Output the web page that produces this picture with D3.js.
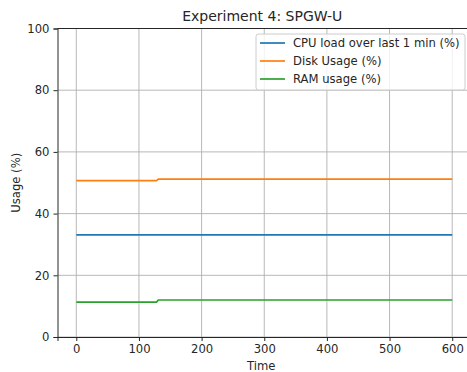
<!DOCTYPE html>
<html>
<head>
<meta charset="utf-8">
<script src="https://cdn.jsdelivr.net/npm/d3@7"></script>
<style>
  body { margin: 0; background: #fff; }
  text { font-family: "DejaVu Sans", sans-serif; fill: #262626; }
  .tick line { stroke: #262626; }
  .domain { stroke: #262626; }
</style>
</head>
<body>
<div id="chart"></div>
<script>
// values
var time = [0, 128, 131, 600];
var cpuLoad = [33.1, 33.1, 33.1, 33.1];
var diskUsage = [50.7, 50.7, 51.2, 51.2];
var ramUsage = [11.3, 11.3, 12.0, 12.0];

var seriesNames = ["CPU load over last 1 min (%)", "Disk Usage (%)", "RAM usage (%)"];
var seriesColors = ["#1f77b4", "#ff7f0e", "#2ca02c"];
var xTicks = [0, 100, 200, 300, 400, 500, 600];
var yTicks = [0, 20, 40, 60, 80, 100];

var series = [cpuLoad, diskUsage, ramUsage].map(function(vals, i) {
  return { name: seriesNames[i], color: seriesColors[i],
           values: vals.map(function(v, j) { return [time[j], v]; }) };
});

var W = 467, H = 372;
var margin = {top: 28.5, right: -4, bottom: 35, left: 57.5},
    width = W - margin.left - margin.right,
    height = H - margin.top - margin.bottom;

var xScale = d3.scaleLinear().domain([-30, 630]).range([0, width]),
    yScale = d3.scaleLinear().domain([0, 100]).range([height, 0]);

var svg = d3.select("#chart").append("svg")
    .attr("width", W)
    .attr("height", H)
    .append("g")
    .attr("transform", "translate(" + margin.left + "," + margin.top + ")");

// grid
svg.append("g").selectAll("line")
    .data(xTicks).enter().append("line")
    .attr("x1", function(d) { return xScale(d); })
    .attr("x2", function(d) { return xScale(d); })
    .attr("y1", 0).attr("y2", height)
    .attr("stroke", "#b0b0b0").attr("stroke-width", 0.9);

svg.append("g").selectAll("line")
    .data(yTicks).enter().append("line")
    .attr("x1", 0).attr("x2", width)
    .attr("y1", function(d) { return yScale(d); })
    .attr("y2", function(d) { return yScale(d); })
    .attr("stroke", "#b0b0b0").attr("stroke-width", 0.9);

// lines
var line = d3.line()
    .x(function(d) { return xScale(d[0]); })
    .y(function(d) { return yScale(d[1]); });

svg.append("g").selectAll("path")
    .data(series).enter().append("path")
    .attr("d", function(d) { return line(d.values); })
    .attr("fill", "none")
    .attr("stroke", function(d) { return d.color; })
    .attr("stroke-width", 1.7);

// axes
var xAxis = d3.axisBottom(xScale).tickValues(xTicks).tickSizeOuter(0).tickSize(4).tickPadding(4),
    yAxis = d3.axisLeft(yScale).tickValues(yTicks).tickSizeOuter(0).tickSize(4).tickPadding(4);

svg.append("g")
    .attr("transform", "translate(0," + height + ")")
    .call(xAxis)
    .call(function(g) { g.selectAll("text").style("font-size", "11.6px"); });

svg.append("g")
    .call(yAxis)
    .call(function(g) { g.selectAll("text").style("font-size", "11.6px"); });

svg.selectAll(".domain").attr("stroke-width", 1);

// top spine
svg.append("line")
    .attr("x1", 0).attr("x2", width)
    .attr("y1", 0).attr("y2", 0)
    .attr("stroke", "#262626");

// title and labels
svg.append("text")
    .attr("x", width / 2 - 2)
    .attr("y", -8)
    .attr("text-anchor", "middle")
    .style("font-size", "14px")
    .text("Experiment 4: SPGW-U");

svg.append("text")
    .attr("x", width / 2 - 3)
    .attr("y", height + 33)
    .attr("text-anchor", "middle")
    .style("font-size", "11.6px")
    .text("Time");

svg.append("text")
    .attr("transform", "rotate(-90)")
    .attr("x", -height / 2)
    .attr("y", -38)
    .attr("text-anchor", "middle")
    .style("font-size", "11.6px")
    .text("Usage (%)");

// legend
var legend = svg.append("g")
    .attr("transform", "translate(" + (256 - margin.left) + "," + (34 - margin.top) + ")");

legend.append("rect")
    .attr("width", 209).attr("height", 56)
    .attr("rx", 2.5)
    .attr("fill", "white").attr("fill-opacity", 0.8)
    .attr("stroke", "#cccccc");

var items = legend.selectAll(".item")
    .data(series).enter().append("g")
    .attr("transform", function(d, i) { return "translate(0," + (9 + i * 18) + ")"; });

items.append("line")
    .attr("x1", 4).attr("x2", 29)
    .attr("stroke", function(d) { return d.color; })
    .attr("stroke-width", 1.7);

items.append("text")
    .attr("x", 37)
    .attr("dy", "0.35em")
    .style("font-size", "11.6px")
    .text(function(d) { return d.name; });
</script>
</body>
</html>
